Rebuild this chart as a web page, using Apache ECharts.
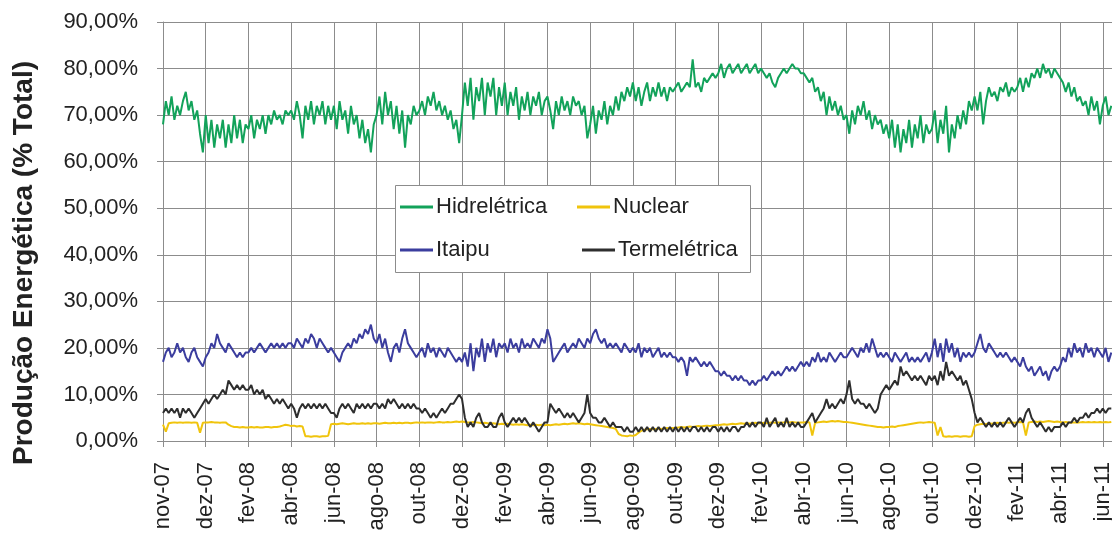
<!DOCTYPE html>
<html>
<head>
<meta charset="utf-8">
<script src="https://cdn.jsdelivr.net/npm/echarts@6/dist/echarts.min.js"></script>
<style>
  html, body { margin: 0; padding: 0; background: #ffffff; }
  #chart { width: 1112px; height: 536px; }
</style>
</head>
<body>
<div id="chart"></div>
<script>
// Daily share of each source, sampled every STEP_DAYS days from 1 Nov 2007.
const STEP_DAYS = 4;
const TICK_DAYS = 60;

const tickLabels = ['nov-07', 'dez-07', 'fev-08', 'abr-08', 'jun-08', 'ago-08', 'out-08', 'dez-08',
  'fev-09', 'abr-09', 'jun-09', 'ago-09', 'out-09', 'dez-09', 'fev-10', 'abr-10', 'jun-10',
  'ago-10', 'out-10', 'dez-10', 'fev-11', 'abr-11', 'jun-11'];

const seriesNames = ['Hidrelétrica', 'Itaipu', 'Nuclear', 'Termelétrica'];

const hidreletrica = [
  68, 73, 70, 74, 69, 72, 70, 73, 75, 71, 73, 69, 71, 66, 62,
  70, 64, 69, 63, 68, 65, 69, 63, 68, 64, 70, 65, 69, 64, 68,
  67, 70, 65, 69, 67, 70, 66, 70, 68, 71, 69, 70, 68, 71, 70,
  71, 69, 73, 70, 65, 72, 69, 73, 68, 72, 70, 73, 68, 72, 69,
  72, 67, 73, 69, 71, 66, 72, 68, 70, 65, 69, 64, 67, 62, 68,
  70, 74, 68, 75, 70, 73, 67, 72, 66, 71, 63, 70, 68, 72, 70,
  71, 73, 70, 74, 72, 75, 71, 73, 70, 72, 69, 71, 67, 69, 64,
  70, 77, 72, 78, 69, 76, 73, 78, 70, 77, 74, 78, 70, 76, 72,
  77, 70, 75, 72, 76, 69, 74, 71, 75, 70, 74, 72, 75, 70, 73,
  74, 71, 67, 73, 70, 74, 71, 73, 70, 74, 72, 73, 70, 72, 65,
  68, 72, 66, 71, 69, 73, 68, 72, 70, 74, 71, 75, 73, 76, 74,
  77, 73, 76, 72, 75, 77, 73, 76, 74, 77, 74, 76, 73, 76, 75,
  76, 77, 75, 76, 77, 76, 82, 76, 77, 75, 78, 77, 78, 79, 78,
  79, 81, 78, 80, 81, 79, 80, 81, 79, 80, 81, 79, 80, 81, 79,
  80, 79, 78, 79, 77, 76, 78, 79, 80, 79, 80, 81, 80, 80, 79,
  79, 78, 77, 78, 75, 76, 73, 75, 70, 74, 71, 73, 70, 72, 69,
  70, 66, 71, 68, 72, 70, 73, 69, 71, 67, 70, 68, 69, 66, 68,
  65, 69, 63, 68, 62, 67, 64, 69, 63, 68, 65, 70, 64, 68, 66,
  67, 71, 64, 69, 66, 72, 62, 68, 65, 70, 67, 71, 68, 73, 71,
  74, 71, 75, 68, 73, 76, 74, 75, 73, 76, 75, 77, 74, 76, 75,
  76, 78, 75, 78, 76, 79, 78, 80, 78, 81, 79, 80, 78, 80, 79,
  78, 77, 75, 77, 74, 76, 73, 74, 72, 73, 70, 74, 71, 73, 68,
  72, 74, 70, 72
];

const itaipu = [
  17, 19, 20, 18, 19, 21, 19, 20, 18, 17, 19, 20, 18, 17, 16,
  18, 19, 21, 20, 23, 21, 20, 19, 21, 20, 19, 18, 19, 18, 19,
  19, 20, 19, 20, 21, 20, 19, 20, 21, 20, 21, 20, 21, 20, 21,
  21, 20, 22, 21, 20, 22, 21, 23, 22, 20, 22, 21, 20, 19, 20,
  19, 18, 17, 19, 20, 21, 20, 22, 21, 23, 22, 24, 23, 25, 22,
  21, 23, 20, 22, 19, 17, 20, 21, 19, 22, 24, 21, 20, 19, 18,
  19, 20, 18, 21, 19, 20, 18, 20, 19, 18, 20, 19, 18, 17, 18,
  17, 19, 16, 21, 15, 20, 18, 22, 17, 21, 19, 22, 18, 21, 20,
  21, 19, 22, 20, 21, 19, 22, 20, 21, 20, 22, 21, 20, 22, 21,
  24, 22, 17, 18, 19, 20, 21, 19, 20, 21, 20, 22, 21, 20, 22,
  21, 23, 24, 22, 21, 22, 20, 21, 20, 21, 20, 19, 21, 20, 19,
  20, 19, 21, 18, 20, 19, 20, 18, 19, 20, 18, 19, 18, 19, 18,
  18, 17, 18, 17, 14, 18, 17, 18, 17, 16, 17, 16, 17, 16, 15,
  15, 14, 15, 14, 14, 13, 14, 13, 14, 13, 13, 12, 13, 12, 13,
  13, 14, 13, 14, 15, 14, 15, 14, 15, 16, 15, 16, 15, 16, 17,
  16, 17, 16, 18, 17, 19, 17, 18, 17, 19, 18, 17, 18, 19, 18,
  18, 19, 20, 19, 18, 20, 19, 21, 19, 22, 20, 18, 19, 18, 19,
  18, 17, 19, 18, 17, 18, 19, 17, 18, 17, 18, 17, 18, 19, 17,
  19, 22, 18, 21, 17, 22, 19, 21, 18, 20, 17, 19, 18, 19, 18,
  19, 21, 23, 20, 19, 21, 20, 19, 18, 19, 18, 19, 18, 17, 18,
  17, 16, 18, 16, 15, 16, 14, 15, 16, 14, 15, 13, 15, 16, 15,
  16, 18, 17, 20, 18, 21, 19, 20, 18, 21, 19, 20, 18, 20, 19,
  18, 20, 17, 19
];

const nuclear = [
  3.5, 2, 3.8, 3.9, 4, 3.9, 4, 3.9, 4, 4, 3.9, 4, 3.9, 1.8, 3.9,
  4, 4, 4.1, 4, 4, 3.9, 4, 4, 3.5, 3.2, 3, 3, 2.9, 3, 2.9,
  2.9, 3, 2.9, 3, 2.9, 2.9, 3, 3, 2.9, 3, 3, 3.1, 3.3, 3.5, 3.4,
  3.2, 3.3, 3.1, 3.2, 3.1, 1, 1, 0.9, 1, 1, 0.9, 1, 1, 1.1, 3.6,
  3.7, 3.6, 3.7, 3.8, 3.7, 3.6, 3.7, 3.8, 3.7, 3.7, 3.8, 3.7, 3.8, 3.7, 3.8,
  3.8, 3.7, 3.8, 3.9, 3.8, 3.8, 3.9, 3.8, 3.9, 3.8, 3.9, 3.9, 3.8, 3.9, 4,
  3.9, 4, 3.9, 4, 4, 3.9, 4, 4.1, 4, 4, 4.1, 4, 4.1, 4.2, 4.1,
  4.2, 4.1, 4, 4, 4.1, 4, 3.9, 3.8, 3.9, 3.8, 3.7, 3.8, 3.7, 3.6, 3.7,
  3.6, 3.7, 3.6, 3.5, 3.6, 3.5, 3.6, 3.5, 3.4, 3.5, 3.4, 3.5, 3.4, 3.5, 3.4,
  3.5, 3.4, 3.5, 3.6, 3.5, 3.6, 3.7, 3.6, 3.7, 3.8, 3.7, 3.8, 3.7, 3.6, 3.7,
  3.6, 3.5, 3.4, 3.3, 3.2, 3.1, 3, 2.9, 2.8, 2.6, 1.5, 1.2, 1.1, 1, 1.2,
  1.1, 1.3, 1.8, 2.2, 2.4, 2.5, 2.6, 2.5, 2.6, 2.7, 2.6, 2.7, 2.8, 2.7, 2.8,
  2.8, 2.9, 3, 2.9, 3, 3.1, 3, 3.1, 3.2, 3.1, 3.2, 3.3, 3.2, 3.3, 3.4,
  3.4, 3.5, 3.6, 3.5, 3.6, 3.7, 3.6, 3.7, 3.8, 3.7, 3.8, 3.7, 3.8, 3.9, 3.8,
  3.8, 3.9, 3.8, 3.9, 4, 3.9, 4, 3.9, 4, 4.1, 4, 4.1, 4, 3.9, 4,
  4, 4.1, 4, 1.2, 3.9, 4, 4.1, 4.2, 4.1, 4.2, 4.3, 4.2, 4.3, 4.2, 4.1,
  4.1, 4, 3.9, 3.8, 3.7, 3.6, 3.5, 3.4, 3.3, 3.2, 3.1, 3, 3, 2.9, 3,
  3, 3.1, 3, 3.2, 3.3, 3.4, 3.5, 3.6, 3.7, 3.8, 3.9, 4, 3.9, 4, 4.1,
  4, 3.9, 1.2, 3, 1, 0.9, 1, 0.9, 1, 1, 0.9, 1, 1, 0.9, 1,
  3.2, 3.5, 3.6, 3.7, 3.6, 3.8, 3.7, 3.8, 3.9, 3.8, 3.9, 4, 3.9, 4, 3.9,
  4, 4.1, 4, 1.2, 4, 4.1, 4.2, 4.1, 4.2, 4.1, 4.2, 4.3, 4.2, 4.1, 4.2,
  4.1, 4, 4.1, 4, 3.9, 4, 3.9, 4, 4.1, 4, 4.1, 4, 4.1, 4, 4.1,
  4, 4.1, 4, 4.1
];

const termeletrica = [
  6, 7, 6, 7, 6, 7, 5, 7, 6, 7, 6, 5, 6, 7, 8,
  9, 8, 9, 10, 9, 10, 11, 10, 13, 12, 11, 12, 11, 12, 11,
  11, 12, 10, 11, 10, 11, 9, 10, 9, 8, 9, 8, 9, 8, 7,
  8, 7, 5, 7, 8, 7, 8, 7, 8, 7, 8, 7, 8, 7, 6,
  6, 5, 7, 8, 7, 8, 7, 6, 8, 7, 8, 7, 8, 7, 8,
  8, 7, 8, 7, 9, 8, 9, 8, 7, 8, 7, 8, 7, 8, 7,
  7, 6, 7, 6, 5, 6, 5, 6, 7, 6, 7, 8, 8, 9, 10,
  9, 5, 3, 4, 3, 5, 6, 4, 3, 3, 4, 3, 3, 5, 6,
  4, 3, 4, 5, 4, 5, 4, 5, 4, 3, 4, 3, 2, 3, 4,
  4, 8, 7, 6, 7, 6, 5, 6, 5, 6, 5, 4, 5, 6, 10,
  6, 5, 5, 4, 4, 5, 4, 3, 4, 3, 3, 3, 2, 3, 2,
  2, 3, 2, 3, 2, 3, 2, 3, 2, 3, 2, 3, 2, 3, 2,
  3, 2, 3, 2, 3, 2, 3, 3, 2, 3, 2, 3, 2, 3, 3,
  2, 3, 2, 3, 2, 3, 3, 2, 3, 3, 4, 3, 4, 3, 4,
  4, 3, 5, 3, 4, 5, 3, 4, 3, 5, 3, 4, 3, 4, 3,
  3, 4, 5, 6, 4, 5, 6, 7, 9, 7, 8, 7, 8, 9, 8,
  10, 13, 9, 8, 9, 8, 8, 7, 8, 7, 6, 7, 10, 11, 12,
  11, 12, 13, 12, 16, 14, 15, 14, 13, 14, 13, 14, 13, 12, 14,
  13, 14, 12, 15, 13, 17, 14, 15, 14, 13, 14, 12, 13, 11, 9,
  6, 4, 5, 4, 3, 4, 3, 4, 3, 4, 3, 4, 5, 4, 3,
  4, 5, 4, 6, 7, 5, 4, 3, 4, 3, 2, 3, 2, 3, 3,
  3, 4, 3, 4, 4, 5, 4, 5, 5, 6, 5, 6, 6, 7, 6,
  7, 6, 7, 7
];

const FONT = "'Liberation Sans', Arial, sans-serif";
const GRID_COLOR = '#8c8c8c';
const TEXT_COLOR = '#222222';

const colors = {
  'Hidrelétrica': '#12a25a',
  'Itaipu': '#3b3d9e',
  'Nuclear': '#f0c40c',
  'Termelétrica': '#2e2e2e'
};

const values = {
  'Hidrelétrica': hidreletrica,
  'Itaipu': itaipu,
  'Nuclear': nuclear,
  'Termelétrica': termeletrica
};

const toPoints = arr => arr.map((v, i) => [i * STEP_DAYS, v]);

const legendBase = {
  icon: 'rect',
  itemWidth: 33,
  itemHeight: 3,
  itemGap: 0,
  padding: 0,
  selectedMode: false,
  textStyle: { fontSize: 22, color: TEXT_COLOR, fontFamily: FONT, padding: [0, 0, 0, -2] }
};

const chart = echarts.init(document.getElementById('chart'), null, { renderer: 'canvas' });

chart.setOption({
  animation: false,
  backgroundColor: '#ffffff',
  grid: { left: 163, top: 22, right: -5, bottom: 95, containLabel: false, outerBoundsMode: 'none' },
  xAxis: {
    type: 'value',
    min: 0,
    max: 1340,
    interval: TICK_DAYS,
    axisLine: { show: true, lineStyle: { color: GRID_COLOR, width: 1 } },
    axisTick: { show: true, length: 6, lineStyle: { color: GRID_COLOR } },
    splitLine: { show: true, lineStyle: { color: GRID_COLOR, width: 1 } },
    axisLabel: {
      rotate: 90,
      margin: 21,
      fontSize: 22,
      fontFamily: FONT,
      color: TEXT_COLOR,
      showMaxLabel: false,
      formatter: v => (v % TICK_DAYS === 0 ? (tickLabels[v / TICK_DAYS] || '') : '')
    }
  },
  yAxis: {
    type: 'value',
    min: 0,
    max: 90,
    interval: 10,
    axisLine: { show: true, lineStyle: { color: GRID_COLOR, width: 1 } },
    axisTick: { show: true, length: 6, lineStyle: { color: GRID_COLOR } },
    splitLine: { show: true, lineStyle: { color: GRID_COLOR, width: 1 } },
    axisLabel: {
      margin: 25,
      fontSize: 22,
      fontFamily: FONT,
      color: TEXT_COLOR,
      formatter: v => v.toFixed(2).replace('.', ',') + '%'
    }
  },
  legend: [
    Object.assign({}, legendBase, { data: ['Hidrelétrica'], left: 400, top: 196 }),
    Object.assign({}, legendBase, { data: ['Nuclear'], left: 577, top: 196 }),
    Object.assign({}, legendBase, { data: ['Itaipu'], left: 400, top: 239 }),
    Object.assign({}, legendBase, { data: ['Termelétrica'], left: 582, top: 239 })
  ],
  graphic: [
    {
      type: 'rect',
      z: 3,
      shape: { x: 395.5, y: 185.5, width: 355, height: 87 },
      style: { fill: '#ffffff', stroke: '#8c8c8c', lineWidth: 1 }
    },
    {
      type: 'text',
      z: 3,
      x: 24,
      y: 263,
      rotation: Math.PI / 2,
      style: {
        text: 'Produção Energética (% Total)',
        fontSize: 28,
        fontWeight: 'bold',
        fontFamily: FONT,
        fill: TEXT_COLOR,
        align: 'center',
        verticalAlign: 'middle'
      }
    }
  ],
  series: seriesNames.map(name => ({
    name: name,
    type: 'line',
    data: toPoints(values[name]),
    showSymbol: false,
    symbol: 'none',
    lineStyle: { color: colors[name], width: 2 },
    itemStyle: { color: colors[name] },
    emphasis: { disabled: true }
  }))
});
</script>
</body>
</html>
